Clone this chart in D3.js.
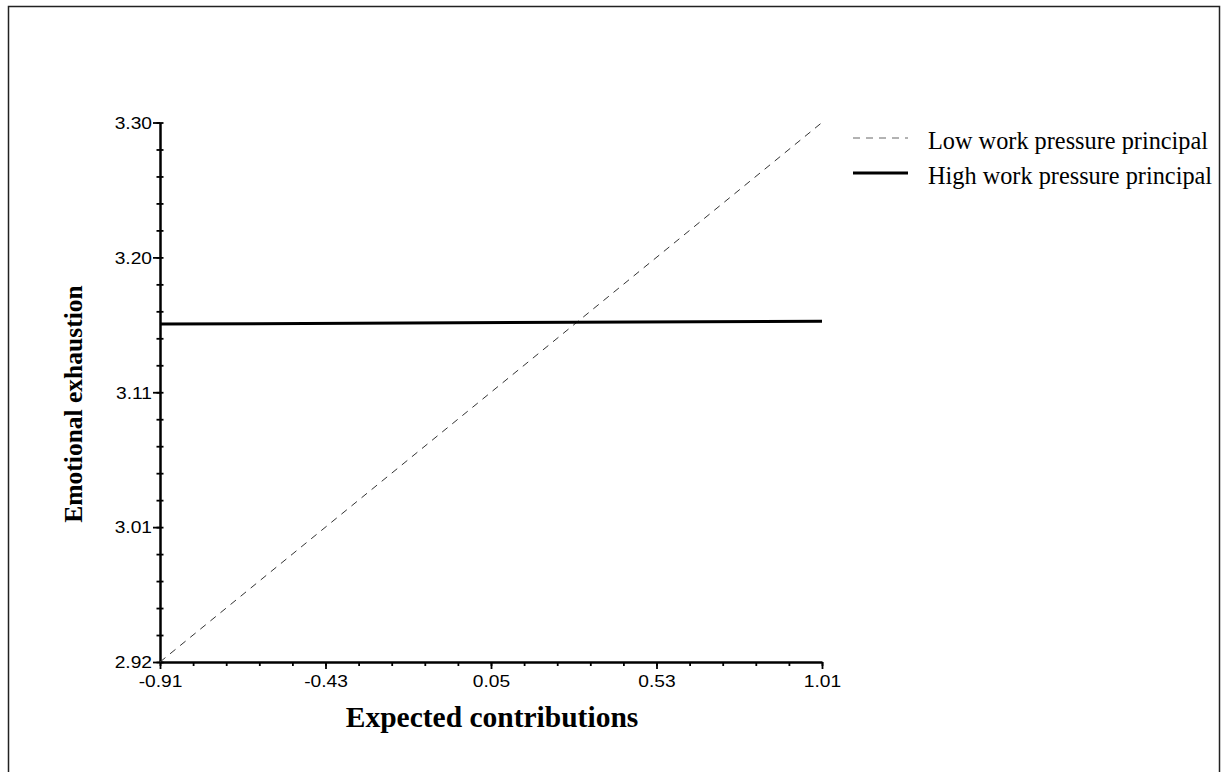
<!DOCTYPE html>
<html lang="en">
<head>
<meta charset="UTF-8">
<title>Emotional exhaustion</title>
<script src="https://d3js.org/d3.v7.min.js"></script>
<style>
  body { margin: 0; background: #fff; }
</style>
</head>
<body>
<svg id="chart" width="1221" height="772"></svg>
<script>
// data
const xEnds = [-0.91, 1.01];
const lowPressure = [2.92, 3.30];
const highPressure = [3.158, 3.160];
const seriesNames = ['Low work pressure principal', 'High work pressure principal'];

const xTicks = [-0.91, -0.43, 0.05, 0.53, 1.01];
const xTickLabels = ['-0.91', '-0.43', '0.05', '0.53', '1.01'];
const yTicks = [2.92, 3.015, 3.11, 3.205, 3.30];
const yTickLabels = ['2.92', '3.01', '3.11', '3.20', '3.30'];

const svg = d3.select('#chart');
const margin = { left: 160, top: 122.5, right: 399, bottom: 110 };
const width = 1221 - margin.left - margin.right;
const height = 772 - margin.top - margin.bottom;

// page frame
svg.append('rect')
    .attr('x', 8.5).attr('y', 6.5)
    .attr('width', 1211).attr('height', 820)
    .attr('fill', 'none').attr('stroke', '#222').attr('stroke-width', 1.5);

const g = svg.append('g').attr('transform', `translate(${margin.left},${margin.top})`);

const x = d3.scaleLinear().domain([-0.91, 1.01]).range([0, width]);
const y = d3.scaleLinear().domain([2.92, 3.30]).range([height, 0]);

// minor ticks, 5 per major interval
const minorX = d3.range(21).map(i => -0.91 + i * 0.096);
const minorY = d3.range(21).map(i => 2.92 + i * 0.019);

g.append('g')
    .attr('transform', `translate(0,${height})`)
    .call(d3.axisBottom(x).tickValues(minorX).tickSize(4).tickFormat(''))
    .call(a => a.select('.domain').remove())
    .selectAll('line').attr('stroke-width', 1.8);

g.append('g')
    .attr('transform', 'translate(3.5,0)')
    .call(d3.axisLeft(y).tickValues(minorY).tickSize(7).tickFormat(''))
    .call(a => a.select('.domain').remove())
    .selectAll('line').attr('stroke-width', 1.8);

const xAxis = g.append('g')
    .attr('transform', `translate(0,${height})`)
    .call(d3.axisBottom(x).tickValues(xTicks).tickSize(7).tickSizeOuter(0)
        .tickPadding(6).tickFormat((d, i) => xTickLabels[i]));

const yAxis = g.append('g')
    .call(d3.axisLeft(y).tickValues(yTicks).tickSize(7).tickSizeOuter(0)
        .tickPadding(2).tickFormat((d, i) => yTickLabels[i]));

[xAxis, yAxis].forEach(a => {
    a.attr('font-family', '"Liberation Sans", Arial, sans-serif').attr('font-size', 16);
    a.select('.domain').attr('stroke-width', 2.5);
    a.selectAll('.tick line').attr('stroke-width', 1.8);
    a.selectAll('.tick text').attr('fill', '#000');
});
// the labels in the source are drawn a little wide
xAxis.selectAll('.tick text')
    .attr('y', null).attr('dy', null)
    .attr('transform', 'translate(0,25) scale(1.2,1)');
yAxis.selectAll('.tick text')
    .attr('x', null).attr('dy', '0.36em')
    .attr('transform', 'translate(-8,0) scale(1.2,1)');

// lines
const line = d3.line().x(d => x(d[0])).y(d => y(d[1]));
const lowData = xEnds.map((v, i) => [v, lowPressure[i]]);
const highData = xEnds.map((v, i) => [v, highPressure[i]]);

g.append('path')
    .datum(lowData)
    .attr('d', line)
    .attr('fill', 'none')
    .attr('stroke', '#333')
    .attr('stroke-width', 1)
    .attr('stroke-dasharray', '7,6');

g.append('path')
    .datum(highData)
    .attr('d', line)
    .attr('fill', 'none')
    .attr('stroke', '#000')
    .attr('stroke-width', 3);

// axis titles
svg.append('text')
    .attr('x', 492).attr('y', 727)
    .attr('text-anchor', 'middle')
    .style('font-family', '"Liberation Serif", "Times New Roman", serif')
    .style('font-weight', 'bold')
    .style('font-size', '29.5px')
    .text('Expected contributions');

svg.append('text')
    .attr('transform', 'translate(82,404) rotate(-90)')
    .attr('text-anchor', 'middle')
    .style('font-family', '"Liberation Serif", "Times New Roman", serif')
    .style('font-weight', 'bold')
    .style('font-size', '25.5px')
    .text('Emotional exhaustion');

// legend
const legend = svg.append('g').attr('transform', 'translate(853,138)');
seriesNames.forEach((name, i) => {
    const row = legend.append('g').attr('transform', `translate(0,${i * 35})`);
    row.append('line')
        .attr('x1', 0).attr('x2', 55)
        .attr('stroke', i === 0 ? '#666' : '#000')
        .attr('stroke-width', i === 0 ? 1 : 3)
        .attr('stroke-dasharray', i === 0 ? '7,6' : null);
    row.append('text')
        .attr('x', 75).attr('y', 11)
        .style('font-family', '"Liberation Serif", "Times New Roman", serif')
        .style('font-size', '24.3px')
        .text(name);
});
</script>
</body>
</html>
